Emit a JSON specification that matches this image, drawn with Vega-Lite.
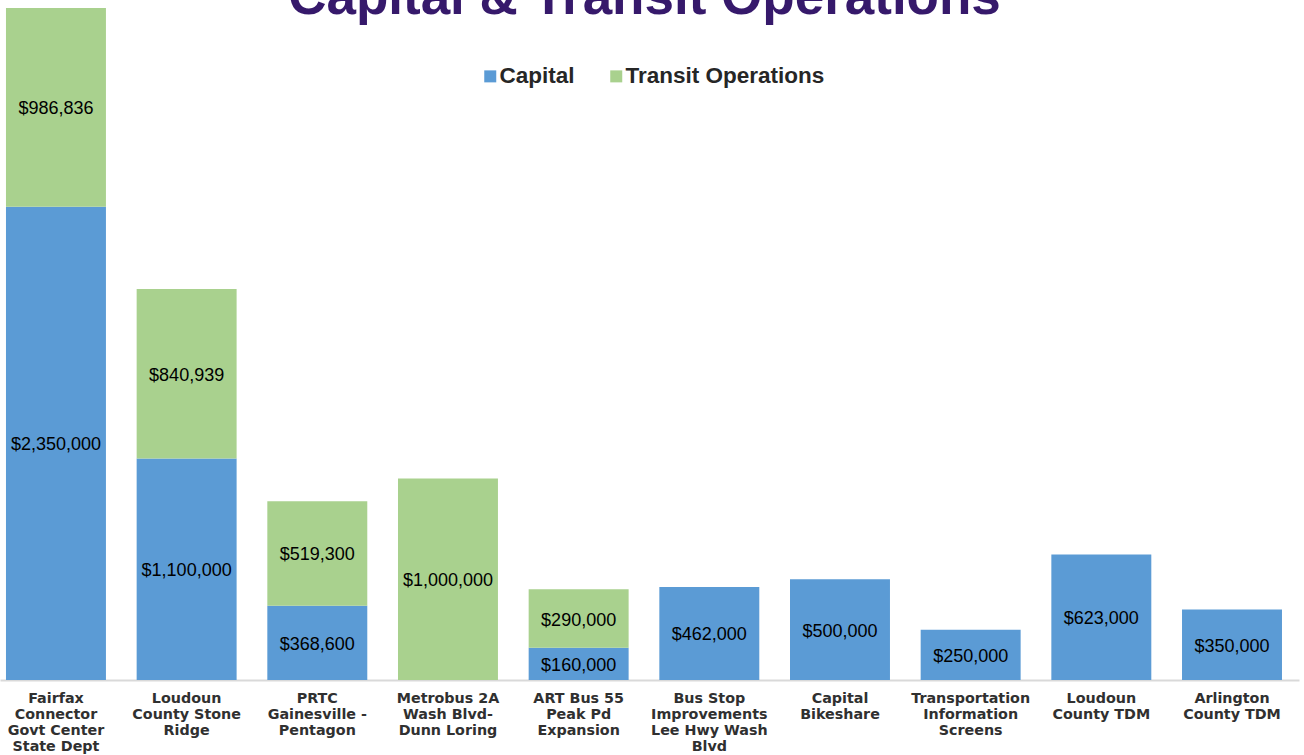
{
  "$schema": "https://vega.github.io/schema/vega-lite/v6.json",
  "width": 1299,
  "height": 680,
  "padding": {"left": 0, "top": 0, "right": 5, "bottom": 75},
  "autosize": {"type": "none"},
  "background": "white",
  "title": {"text": "Capital & Transit Operations", "fontSize": 53, "font": "Liberation Sans", "fontWeight": "bold", "color": "#36196B", "anchor": "middle", "offset": -67, "baseline": "alphabetic", "dx": -5},
  "data": {"values": [
    {"project": "Fairfax|Connector|Govt Center|State Dept", "type": "Capital", "value": 2350000},
    {"project": "Fairfax|Connector|Govt Center|State Dept", "type": "Transit Operations", "value": 986836},
    {"project": "Loudoun|County Stone|Ridge", "type": "Capital", "value": 1100000},
    {"project": "Loudoun|County Stone|Ridge", "type": "Transit Operations", "value": 840939},
    {"project": "PRTC|Gainesville -|Pentagon", "type": "Capital", "value": 368600},
    {"project": "PRTC|Gainesville -|Pentagon", "type": "Transit Operations", "value": 519300},
    {"project": "Metrobus 2A|Wash Blvd-|Dunn Loring", "type": "Transit Operations", "value": 1000000},
    {"project": "ART Bus 55|Peak Pd|Expansion", "type": "Capital", "value": 160000},
    {"project": "ART Bus 55|Peak Pd|Expansion", "type": "Transit Operations", "value": 290000},
    {"project": "Bus Stop|Improvements|Lee Hwy Wash|Blvd", "type": "Capital", "value": 462000},
    {"project": "Capital|Bikeshare", "type": "Capital", "value": 500000},
    {"project": "Transportation|Information|Screens", "type": "Capital", "value": 250000},
    {"project": "Loudoun|County TDM", "type": "Capital", "value": 623000},
    {"project": "Arlington|County TDM", "type": "Capital", "value": 350000}
  ]},
  "transform": [
    {"stack": "value", "groupby": ["project"], "sort": [{"field": "type", "order": "ascending"}], "as": ["v0", "v1"]},
    {"calculate": "(datum.v0 + datum.v1) / 2", "as": "mid"}
  ],
  "encoding": {
    "x": {
      "field": "project", "type": "nominal",
      "sort": ["Fairfax|Connector|Govt Center|State Dept", "Loudoun|County Stone|Ridge", "PRTC|Gainesville -|Pentagon", "Metrobus 2A|Wash Blvd-|Dunn Loring", "ART Bus 55|Peak Pd|Expansion", "Bus Stop|Improvements|Lee Hwy Wash|Blvd", "Capital|Bikeshare", "Transportation|Information|Screens", "Loudoun|County TDM", "Arlington|County TDM"],
      "scale": {"paddingInner": 0.235, "paddingOuter": 0.088, "align": 0.26},
      "axis": {
        "title": null, "labelAngle": 0, "ticks": false,
        "domainColor": "#D9D9D9", "domainWidth": 2,
        "labelExpr": "split(datum.label, '|')",
        "labelFont": "DejaVu Sans", "labelFontWeight": "bold", "labelFontSize": 14.3,
        "labelColor": "#303030", "labelLineHeight": 16, "labelPadding": 11, "labelLimit": 0
      }
    }
  },
  "layer": [
    {
      "mark": {"type": "bar"},
      "encoding": {
        "y": {"field": "v0", "type": "quantitative", "scale": {"domain": [0, 3376000], "nice": false, "zero": true}, "axis": null},
        "y2": {"field": "v1"},
        "color": {
          "field": "type", "type": "nominal",
          "scale": {"domain": ["Capital", "Transit Operations"], "range": ["#5B9BD5", "#A9D18E"]},
          "legend": {
            "title": null, "orient": "none", "direction": "horizontal",
            "legendX": 479, "legendY": 65,
            "symbolType": "square", "symbolSize": 144, "symbolStrokeWidth": 0,
            "labelFont": "Liberation Sans", "labelFontSize": 22.5, "labelFontWeight": "bold", "labelColor": "#262626",
            "labelOffset": -2, "columnPadding": 30, "labelLimit": 0
          }
        }
      }
    },
    {
      "mark": {"type": "text", "font": "Liberation Sans", "fontSize": 18, "color": "#000000", "baseline": "middle", "align": "center", "dy": 2},
      "encoding": {
        "y": {"field": "mid", "type": "quantitative"},
        "text": {"field": "value", "type": "quantitative", "format": "$,.0f"}
      }
    }
  ],
  "config": {"view": {"stroke": null}}
}
